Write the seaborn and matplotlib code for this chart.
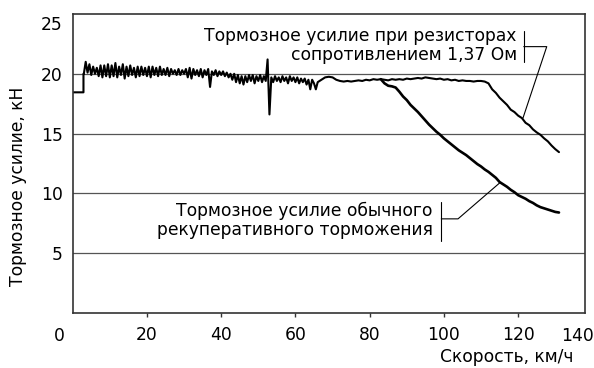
import numpy as np
import pandas as pd
import seaborn as sns
import matplotlib.pyplot as plt

# Start of the record: force before braking kicks in
step_speed = [0.0, 2.9]
step_force = [18.45, 18.45]

# Noisy common section, 3..68 km/h (every 0.5 km/h)
noise_force = [
    20.0, 21.0, 20.1, 20.8, 19.9, 20.6, 20.0, 20.5, 19.8, 20.7, 19.7, 20.7, 19.8, 20.8, 19.7,
    20.7, 19.8, 20.9, 19.7, 20.6, 19.9, 20.8, 19.6, 20.6, 19.8, 20.7, 19.9, 20.5, 19.7, 20.6, 19.8, 20.6, 19.9, 20.5, 19.8,
    20.6, 19.7, 20.6, 19.9, 20.5, 19.8, 20.6, 19.9, 20.4, 19.9, 20.5, 19.8, 20.4, 20.0, 20.3, 19.9, 20.4, 19.9, 20.3, 20.0,
    20.4, 19.7, 20.5, 19.6, 20.4, 19.9, 20.3, 19.8, 20.4, 19.7, 20.3, 19.9, 20.4, 18.9, 20.2, 19.9, 20.3, 19.8, 20.2, 19.9,
    20.2, 19.8, 20.1, 19.7, 20.0, 19.5, 20.0, 19.3, 19.9, 19.2, 19.8, 19.1, 19.8, 19.3, 19.9, 19.4, 19.9, 19.2, 19.8, 19.4,
    19.9, 19.3, 19.8, 19.4, 21.2, 16.6, 19.7, 19.3, 19.8, 19.4, 19.7, 19.3, 19.8, 19.4, 19.7, 19.2, 19.8, 19.4, 19.7, 19.3,
    19.7, 19.2, 19.6, 19.3, 19.6, 19.1, 19.5, 18.7, 19.5, 19.2, 18.7, 19.3, 19.4, 19.5, 19.6, 19.7,
]

# Calmer common section up to the split
plateau_speed = [69, 70, 71, 72, 73, 74, 75, 76, 77, 78, 79, 80, 81, 82, 83]
plateau_force = [19.75, 19.7, 19.5, 19.4, 19.35, 19.4, 19.35, 19.4, 19.45, 19.4, 19.5, 19.45, 19.55, 19.5, 19.55]

branch_speed = list(range(84, 132))
# With braking resistors 1.37 Ohm
resistor_force = [
    19.5, 19.45, 19.55, 19.5, 19.55, 19.5, 19.6, 19.55, 19.6, 19.65, 19.6, 19.7, 19.65, 19.6, 19.55, 19.6,
    19.5, 19.55, 19.45, 19.5, 19.4, 19.45, 19.4, 19.4, 19.35, 19.4, 19.4, 19.35, 19.2, 18.7, 18.4, 18.0,
    17.7, 17.4, 17.0, 16.8, 16.5, 16.3, 15.9, 15.7, 15.35, 15.1, 14.9, 14.6, 14.35, 14.0, 13.7, 13.45,
]
# Ordinary regenerative braking
regen_force = [
    19.2, 19.0, 18.95, 18.85, 18.5, 18.1, 17.8, 17.4, 17.1, 16.8, 16.45, 16.1, 15.75, 15.45, 15.15, 14.9,
    14.6, 14.35, 14.1, 13.85, 13.6, 13.4, 13.2, 12.95, 12.7, 12.45, 12.25, 12.0, 11.8, 11.55, 11.3, 10.95,
    10.75, 10.55, 10.3, 10.1, 9.85, 9.7, 9.55, 9.35, 9.2, 9.0, 8.85, 8.75, 8.65, 8.55, 8.45, 8.4,
]

noise_speed = list(np.linspace(3.0, 68.0, len(noise_force)))
common_speed = step_speed + [2.9] + noise_speed + plateau_speed
common_force = step_force + [20.0] + noise_force + plateau_force

resistor = pd.DataFrame({"speed": common_speed + branch_speed,
                         "force": common_force + resistor_force})
regen = pd.DataFrame({"speed": [83] + branch_speed,
                      "force": [19.55] + regen_force})

sns.set_style("white")
plt.rcParams["font.family"] = ["DejaVu Sans"]
plt.rcParams["text.color"] = "black"
plt.rcParams["xtick.color"] = "black"
plt.rcParams["ytick.color"] = "black"
plt.rcParams["axes.labelcolor"] = "black"
fs = 12.3

fig = plt.figure(figsize=(5.94, 3.68), dpi=100)
ax = fig.add_axes([0.1224, 0.1495, 0.9848 - 0.1224, 0.962 - 0.1495])

sns.lineplot(data=resistor, x="speed", y="force", sort=False, estimator=None,
             color="black", lw=1.5, ax=ax)
sns.lineplot(data=regen, x="speed", y="force", sort=False, estimator=None,
             color="black", lw=1.9, ax=ax)

ax.set_xlim(0, 138)
ax.set_ylim(0, 25)
ax.set_xticks([20, 40, 60, 80, 100, 120])
ax.set_yticks([5, 10, 15, 20])
for v in [5, 10, 15, 20]:
    ax.axhline(v, color="#555555", lw=0.9, zorder=0)
for s in ax.spines.values():
    s.set_color("#333333")
    s.set_linewidth(1.2)

ax.tick_params(axis="y", length=0, pad=7, labelsize=fs)
ax.tick_params(axis="x", length=3, width=1, color="#333333", direction="out",
               pad=6.5, labelsize=fs, bottom=True)
ax.text(-0.019, 24.1, "25", transform=ax.get_yaxis_transform(), ha="right",
        va="center", fontsize=fs)
ax.text(-0.027, -0.078, "0", transform=ax.transAxes, ha="center", va="center", fontsize=fs)
ax.text(0.986, -0.078, "140", transform=ax.transAxes, ha="center", va="center", fontsize=fs)

ax.set_xlabel("Скорость, км/ч", fontsize=fs)
ax.xaxis.set_label_coords(0.977, -0.178)
ax.xaxis.label.set_ha("right")
ax.xaxis.label.set_va("bottom")
ax.set_ylabel("")
fig.text(18.5 / 594, 1 - 186 / 368, "Тормозное усилие, кН", rotation=90,
         ha="center", va="center", fontsize=fs)

# Callouts
ax.text(119.6, 22.35, "Тормозное усилие при резисторах\nсопротивлением 1,37 Ом",
        ha="right", va="center", fontsize=fs, linespacing=1.1)
ax.plot([121.5, 121.5], [23.6, 21.0], color="black", lw=0.8)
ax.plot([121.5, 127.7, 121.3], [22.27, 22.27, 16.3], color="black", lw=0.8)

ax.text(96.95, 7.76, "Тормозное усилие обычного\nрекуперативного торможения",
        ha="right", va="center", fontsize=fs, linespacing=1.1)
ax.plot([99.3, 99.3], [9.24, 6.05], color="black", lw=0.8)
ax.plot([99.3, 103.8, 115.0], [7.87, 7.87, 10.87], color="black", lw=0.8)

fig.savefig("out.png", dpi=100)
